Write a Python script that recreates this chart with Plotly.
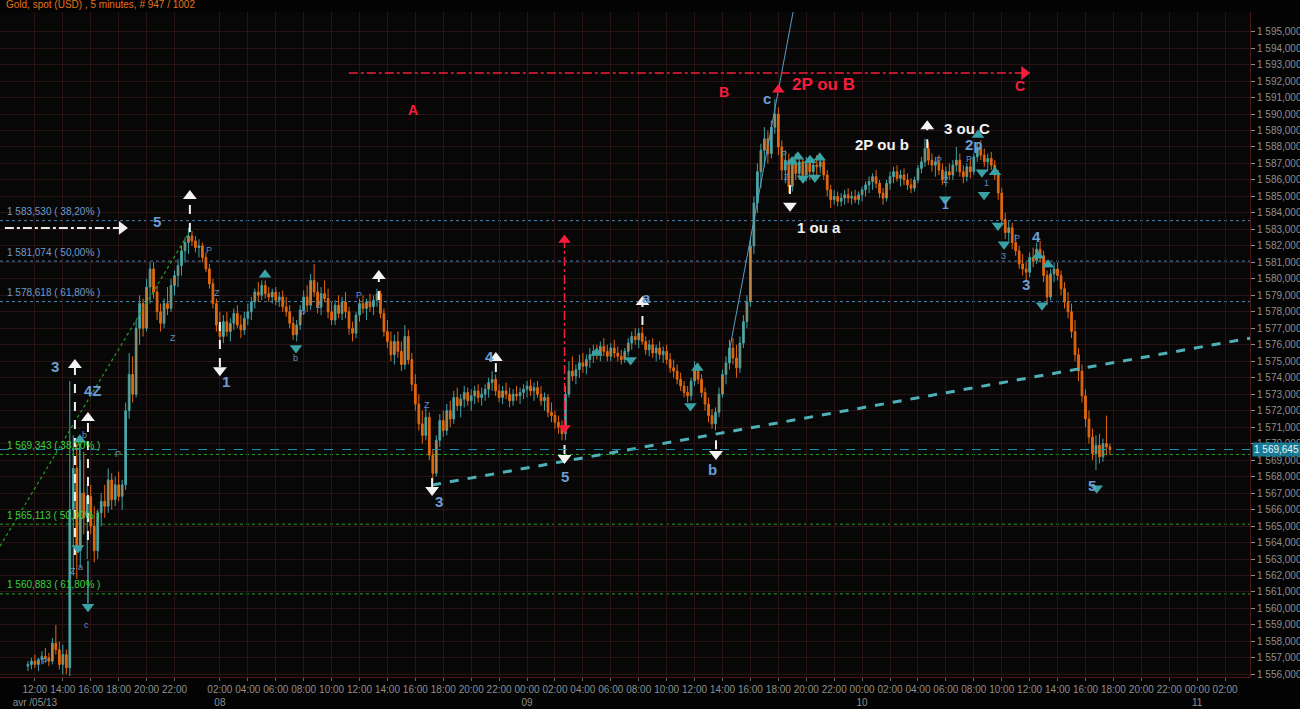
import pandas as pd
import plotly.graph_objects as go

# ---------------------------------------------------------------------------
# Gold spot (USD), 15-minute bars, Fri 5 Apr 2013 -> Wed 10 Apr 2013
# ---------------------------------------------------------------------------
friday_times = pd.date_range("2013-04-05 11:30", "2013-04-05 23:00", freq="15min")
week_times = pd.date_range("2013-04-08 00:00", "2013-04-10 17:45", freq="15min")
bar_times = list(friday_times) + list(week_times)

open_px = [
    # Fri 05
    1556.5, 1556.6, 1556.8, 1556.6, 1556.9, 1557.1, 1557.0, 1556.8,
    1557.9, 1557.5, 1556.6, 1557.2, 1556.4, 1566.0, 1568.5, 1563.5,
    1567.0, 1565.5, 1566.8, 1565.0, 1563.5, 1565.8, 1566.5, 1566.2,
    1567.8, 1566.6, 1567.5, 1566.8, 1567.5, 1572.0, 1574.2, 1573.0,
    1577.0, 1578.5, 1577.0, 1579.5, 1580.6, 1579.2, 1578.0, 1577.3,
    1578.5, 1578.2, 1579.6, 1580.2, 1580.8, 1581.7, 1582.2,
    # Mon 08
    1582.6, 1582.3, 1581.9, 1582.0, 1581.3, 1580.6, 1579.7, 1578.5,
    1577.2, 1576.5, 1577.4, 1576.8, 1577.3, 1577.9, 1577.2, 1576.9,
    1577.6, 1578.0, 1578.6, 1579.2, 1579.0, 1579.6, 1579.1, 1578.9,
    1579.2, 1578.7, 1578.9, 1578.3, 1578.0, 1577.3, 1576.6, 1577.2,
    1578.1, 1578.9, 1578.4, 1579.9, 1579.2, 1578.3, 1579.1, 1578.8,
    1578.0, 1577.5, 1578.4, 1577.9, 1578.6, 1578.0, 1577.0, 1576.7,
    1577.8, 1578.5, 1578.2, 1578.6, 1578.3, 1578.7, 1579.1, 1577.9,
    1576.8, 1576.2, 1575.4, 1576.2, 1575.6, 1574.8, 1576.5, 1575.1,
    1573.6, 1572.4, 1571.2, 1570.5, 1571.6, 1569.3, 1568.2, 1570.2,
    1571.4, 1570.8, 1572.0, 1571.5, 1572.8, 1572.3, 1572.7, 1573.1,
    1572.6, 1572.9, 1573.2, 1572.8, 1573.0, 1573.3, 1573.7, 1573.9,
    1573.2, 1572.8, 1573.2, 1573.0, 1572.6, 1573.0, 1572.9, 1573.1,
    # Tue 09
    1573.3, 1573.5, 1573.2, 1573.4, 1573.0, 1572.6, 1572.8, 1571.9,
    1571.7, 1571.3, 1571.0, 1570.6, 1573.0, 1574.4, 1574.1, 1574.5,
    1574.9, 1574.7, 1575.1, 1575.4, 1575.6, 1575.4, 1575.9, 1575.6,
    1575.3, 1575.8, 1575.5, 1575.3, 1575.1, 1575.6, 1576.1, 1576.5,
    1576.3, 1576.7, 1576.2, 1575.7, 1576.0, 1575.5, 1575.8, 1575.4,
    1575.6, 1575.1, 1574.6, 1574.4, 1573.9, 1573.5, 1573.1, 1572.9,
    1573.8, 1574.6, 1573.9, 1573.1, 1572.4, 1571.7, 1571.2, 1571.9,
    1573.0, 1574.2, 1574.9, 1575.8, 1575.2, 1574.6, 1576.1, 1577.4,
    1578.6, 1582.0, 1584.6, 1586.5, 1587.8, 1588.5, 1587.6, 1589.2,
    1590.0, 1588.0, 1586.6, 1587.2, 1585.6, 1587.0, 1586.4, 1587.1,
    1586.3, 1587.0, 1586.5, 1586.9, 1586.8, 1587.1, 1586.3, 1585.4,
    1584.8, 1585.0, 1584.7, 1584.9, 1585.1, 1584.9, 1585.0, 1584.8,
    # Wed 10
    1585.1, 1585.4, 1585.7, 1585.9, 1586.2, 1585.8, 1585.2, 1584.9,
    1585.8, 1586.2, 1586.5, 1586.1, 1586.3, 1586.0, 1585.7, 1585.5,
    1586.0, 1586.7, 1587.1, 1587.9, 1587.2, 1586.9, 1587.1, 1586.6,
    1586.0, 1586.5, 1586.3, 1586.9, 1587.2, 1586.5, 1586.2, 1586.8,
    1586.5, 1587.4, 1588.0, 1587.5, 1587.1, 1587.3, 1586.9, 1586.3,
    1585.2, 1583.6, 1582.8, 1583.1, 1582.2, 1581.7, 1580.9, 1580.6,
    1580.4, 1581.3, 1581.1, 1581.8, 1581.4, 1580.2, 1578.9, 1580.3,
    1580.6, 1580.2, 1579.4, 1578.6, 1578.0, 1576.8, 1575.4, 1574.4,
    1572.9, 1571.5, 1570.4, 1569.4, 1569.9, 1569.2, 1570.0, 1569.8,
]

high_px = [
    # Fri 05
    1556.8, 1557.0, 1557.2, 1557.0, 1557.4, 1557.6, 1557.3, 1558.2,
    1559.0, 1558.0, 1557.8, 1557.5, 1573.8, 1570.5, 1570.0, 1569.0,
    1569.5, 1567.5, 1567.5, 1566.2, 1566.0, 1567.0, 1567.5, 1568.5,
    1568.2, 1568.0, 1568.3, 1567.8, 1572.5, 1575.5, 1575.3, 1577.5,
    1579.0, 1578.8, 1580.0, 1581.0, 1581.0, 1579.6, 1578.5, 1578.8,
    1579.5, 1580.0, 1580.5, 1581.2, 1582.0, 1582.5, 1583.1,
    # Mon 08
    1582.9, 1582.6, 1582.4, 1582.2, 1581.6, 1580.9, 1580.0, 1578.8,
    1578.0, 1577.8, 1578.0, 1577.6, 1578.2, 1578.4, 1577.8, 1578.0,
    1578.5, 1578.9, 1579.4, 1579.8, 1579.9, 1579.9, 1579.5, 1579.4,
    1579.5, 1579.2, 1579.3, 1578.9, 1578.4, 1577.7, 1577.5, 1578.4,
    1579.3, 1579.6, 1580.3, 1580.9, 1579.8, 1579.5, 1579.9, 1579.4,
    1578.6, 1578.7, 1579.0, 1578.9, 1579.2, 1578.3, 1577.4, 1578.0,
    1578.8, 1579.0, 1578.8, 1579.1, 1579.0, 1579.4, 1579.3, 1578.2,
    1577.5, 1576.8, 1576.6, 1576.8, 1576.2, 1577.2, 1576.9, 1575.5,
    1574.2, 1573.0, 1572.0, 1572.2, 1571.9, 1569.6, 1570.5, 1571.8,
    1572.0, 1572.4, 1572.6, 1573.2, 1573.4, 1573.0, 1573.5, 1573.4,
    1573.3, 1573.5, 1573.6, 1573.4, 1573.6, 1574.0, 1574.4, 1574.2,
    1573.6, 1573.5, 1573.7, 1573.4, 1573.3, 1573.5, 1573.4, 1573.6,
    # Tue 09
    1573.8, 1573.9, 1573.7, 1573.8, 1573.5, 1573.1, 1573.0, 1572.5,
    1572.0, 1571.7, 1571.4, 1573.5, 1575.0, 1575.3, 1574.8, 1575.4,
    1575.5, 1575.4, 1575.8, 1576.0, 1576.0, 1576.2, 1576.4, 1576.0,
    1576.1, 1576.3, 1575.9, 1575.7, 1575.8, 1576.4, 1576.8, 1577.0,
    1577.0, 1577.1, 1576.5, 1576.3, 1576.4, 1576.0, 1576.2, 1575.9,
    1576.0, 1575.5, 1575.1, 1574.8, 1574.3, 1573.8, 1573.5, 1574.0,
    1575.0, 1574.9, 1574.2, 1573.4, 1572.8, 1572.1, 1572.2, 1573.4,
    1574.5, 1575.3, 1576.3, 1576.4, 1576.0, 1576.5, 1577.8, 1579.0,
    1582.5, 1585.0, 1587.0, 1588.2, 1589.2, 1589.0, 1589.6, 1590.9,
    1590.4, 1588.4, 1587.8, 1587.6, 1587.4, 1587.6, 1587.5, 1587.3,
    1587.4, 1587.2, 1587.3, 1587.5, 1587.6, 1587.3, 1586.6, 1585.7,
    1585.4, 1585.3, 1585.2, 1585.4, 1585.5, 1585.3, 1585.4, 1585.3,
    # Wed 10
    1585.6, 1585.9, 1586.2, 1586.4, 1586.6, 1586.0, 1585.5, 1586.0,
    1586.5, 1586.8, 1586.9, 1586.6, 1586.7, 1586.4, 1586.1, 1586.2,
    1586.9, 1587.4, 1588.5, 1588.3, 1587.6, 1587.4, 1587.5, 1587.0,
    1586.8, 1587.0, 1587.2, 1588.0, 1587.6, 1586.9, 1587.0, 1587.3,
    1587.6, 1588.3, 1588.4, 1587.9, 1587.6, 1587.7, 1587.2, 1586.6,
    1585.5, 1584.0, 1583.5, 1583.4, 1582.7, 1582.0, 1581.5, 1581.0,
    1581.6, 1581.9, 1582.2, 1582.3, 1581.7, 1580.5, 1580.6, 1581.0,
    1581.0, 1580.5, 1579.8, 1579.2, 1578.5, 1577.5, 1575.8, 1574.8,
    1573.3, 1572.0, 1570.9, 1570.5, 1570.6, 1570.3, 1571.7, 1570.0,
]

low_px = [
    # Fri 05
    1556.2, 1556.3, 1556.4, 1556.2, 1556.6, 1556.7, 1556.5, 1556.6,
    1557.2, 1556.3, 1556.0, 1556.0, 1555.9, 1562.0, 1561.8, 1562.5,
    1564.5, 1563.0, 1564.5, 1562.8, 1563.0, 1565.0, 1565.5, 1565.8,
    1566.0, 1566.2, 1566.5, 1566.0, 1567.2, 1571.5, 1572.5, 1572.8,
    1576.0, 1576.5, 1576.8, 1578.5, 1578.8, 1577.5, 1576.8, 1577.0,
    1577.8, 1578.0, 1579.0, 1579.5, 1580.2, 1581.0, 1581.5,
    # Mon 08
    1582.0, 1581.6, 1581.3, 1581.0, 1580.4, 1579.4, 1578.2, 1576.8,
    1576.0, 1576.1, 1576.5, 1576.2, 1576.9, 1577.0, 1576.4, 1576.6,
    1577.2, 1577.5, 1578.2, 1578.6, 1578.7, 1578.8, 1578.6, 1578.5,
    1578.4, 1578.3, 1578.0, 1577.7, 1577.0, 1576.3, 1576.2, 1576.9,
    1577.8, 1578.0, 1578.1, 1578.9, 1577.9, 1577.8, 1578.6, 1577.6,
    1577.2, 1577.2, 1577.6, 1577.5, 1577.6, 1576.6, 1576.2, 1576.4,
    1577.4, 1577.9, 1577.5, 1578.0, 1577.8, 1578.3, 1577.6, 1576.5,
    1575.8, 1575.0, 1574.8, 1575.2, 1574.4, 1574.5, 1574.8, 1573.2,
    1572.0, 1570.8, 1570.0, 1570.2, 1569.0, 1567.7, 1568.0, 1569.8,
    1570.4, 1570.5, 1571.0, 1571.2, 1572.0, 1571.6, 1572.2, 1572.3,
    1572.0, 1572.4, 1572.5, 1572.3, 1572.6, 1572.8, 1573.2, 1572.9,
    1572.5, 1572.4, 1572.7, 1572.2, 1572.3, 1572.6, 1572.4, 1572.7,
    # Tue 09
    1572.8, 1572.9, 1572.6, 1572.8, 1572.3, 1572.0, 1571.6, 1571.3,
    1570.9, 1570.6, 1570.2, 1570.2, 1572.8, 1573.8, 1573.6, 1574.0,
    1574.3, 1574.2, 1574.6, 1574.9, 1575.1, 1575.0, 1575.3, 1575.0,
    1575.0, 1575.2, 1575.0, 1574.8, 1574.9, 1575.3, 1575.7, 1576.0,
    1575.8, 1576.0, 1575.4, 1575.3, 1575.2, 1575.0, 1575.1, 1574.9,
    1574.8, 1574.3, 1574.0, 1573.6, 1573.2, 1572.8, 1572.5, 1572.6,
    1573.5, 1573.6, 1572.8, 1572.0, 1571.3, 1570.9, 1570.8, 1571.6,
    1572.8, 1573.6, 1574.5, 1574.8, 1574.0, 1574.3, 1575.8, 1577.0,
    1578.3, 1581.5, 1584.0, 1585.5, 1586.8, 1587.0, 1587.3, 1588.8,
    1587.5, 1586.0, 1585.8, 1585.2, 1585.3, 1586.0, 1586.0, 1585.8,
    1585.9, 1586.0, 1586.1, 1586.3, 1586.4, 1586.0, 1585.0, 1584.3,
    1584.5, 1584.4, 1584.4, 1584.5, 1584.6, 1584.5, 1584.6, 1584.5,
    # Wed 10
    1584.7, 1585.0, 1585.2, 1585.4, 1585.5, 1584.9, 1584.5, 1584.7,
    1585.4, 1585.8, 1585.9, 1585.6, 1585.7, 1585.4, 1585.2, 1585.3,
    1585.8, 1586.4, 1586.8, 1586.9, 1586.5, 1586.2, 1586.3, 1585.7,
    1585.6, 1586.0, 1586.0, 1586.5, 1586.2, 1585.8, 1585.9, 1586.1,
    1586.3, 1587.1, 1587.2, 1586.8, 1586.5, 1586.6, 1586.0, 1584.8,
    1583.2, 1582.4, 1582.3, 1581.8, 1581.4, 1580.6, 1580.2, 1579.8,
    1580.1, 1580.7, 1580.9, 1581.0, 1579.8, 1578.4, 1578.7, 1579.8,
    1579.9, 1579.0, 1578.2, 1577.6, 1576.4, 1575.0, 1573.8, 1572.5,
    1571.0, 1570.0, 1569.0, 1568.4, 1568.8, 1568.9, 1569.3, 1569.3,
]

close_px = [
    # Fri 05
    1556.6, 1556.8, 1556.6, 1556.9, 1557.1, 1557.0, 1556.8, 1557.9,
    1557.5, 1556.6, 1557.2, 1556.4, 1566.0, 1568.5, 1563.5, 1567.0,
    1565.5, 1566.8, 1565.0, 1563.5, 1565.8, 1566.5, 1566.2, 1567.8,
    1566.6, 1567.5, 1566.8, 1567.5, 1572.0, 1574.2, 1573.0, 1577.0,
    1578.5, 1577.0, 1579.5, 1580.6, 1579.2, 1578.0, 1577.3, 1578.5,
    1578.2, 1579.6, 1580.2, 1580.8, 1581.7, 1582.2, 1582.6,
    # Mon 08
    1582.3, 1581.9, 1582.0, 1581.3, 1580.6, 1579.7, 1578.5, 1577.2,
    1576.5, 1577.4, 1576.8, 1577.3, 1577.9, 1577.2, 1576.9, 1577.6,
    1578.0, 1578.6, 1579.2, 1579.0, 1579.6, 1579.1, 1578.9, 1579.2,
    1578.7, 1578.9, 1578.3, 1578.0, 1577.3, 1576.6, 1577.2, 1578.1,
    1578.9, 1578.4, 1579.9, 1579.2, 1578.3, 1579.1, 1578.8, 1578.0,
    1577.5, 1578.4, 1577.9, 1578.6, 1578.0, 1577.0, 1576.7, 1577.8,
    1578.5, 1578.2, 1578.6, 1578.3, 1578.7, 1579.1, 1577.9, 1576.8,
    1576.2, 1575.4, 1576.2, 1575.6, 1574.8, 1576.5, 1575.1, 1573.6,
    1572.4, 1571.2, 1570.5, 1571.6, 1569.3, 1568.2, 1570.2, 1571.4,
    1570.8, 1572.0, 1571.5, 1572.8, 1572.3, 1572.7, 1573.1, 1572.6,
    1572.9, 1573.2, 1572.8, 1573.0, 1573.3, 1573.7, 1573.9, 1573.2,
    1572.8, 1573.2, 1573.0, 1572.6, 1573.0, 1572.9, 1573.1, 1573.3,
    # Tue 09
    1573.5, 1573.2, 1573.4, 1573.0, 1572.6, 1572.8, 1571.9, 1571.7,
    1571.3, 1571.0, 1570.6, 1573.0, 1574.4, 1574.1, 1574.5, 1574.9,
    1574.7, 1575.1, 1575.4, 1575.6, 1575.4, 1575.9, 1575.6, 1575.3,
    1575.8, 1575.5, 1575.3, 1575.1, 1575.6, 1576.1, 1576.5, 1576.3,
    1576.7, 1576.2, 1575.7, 1576.0, 1575.5, 1575.8, 1575.4, 1575.6,
    1575.1, 1574.6, 1574.4, 1573.9, 1573.5, 1573.1, 1572.9, 1573.8,
    1574.6, 1573.9, 1573.1, 1572.4, 1571.7, 1571.2, 1571.9, 1573.0,
    1574.2, 1574.9, 1575.8, 1575.2, 1574.6, 1576.1, 1577.4, 1578.6,
    1582.0, 1584.6, 1586.5, 1587.8, 1588.5, 1587.6, 1589.2, 1590.0,
    1588.0, 1586.6, 1587.2, 1585.6, 1587.0, 1586.4, 1587.1, 1586.3,
    1587.0, 1586.5, 1586.9, 1586.8, 1587.1, 1586.3, 1585.4, 1584.8,
    1585.0, 1584.7, 1584.9, 1585.1, 1584.9, 1585.0, 1584.8, 1585.1,
    # Wed 10
    1585.4, 1585.7, 1585.9, 1586.2, 1585.8, 1585.2, 1584.9, 1585.8,
    1586.2, 1586.5, 1586.1, 1586.3, 1586.0, 1585.7, 1585.5, 1586.0,
    1586.7, 1587.1, 1587.9, 1587.2, 1586.9, 1587.1, 1586.6, 1586.0,
    1586.5, 1586.3, 1586.9, 1587.2, 1586.5, 1586.2, 1586.8, 1586.5,
    1587.4, 1588.0, 1587.5, 1587.1, 1587.3, 1586.9, 1586.3, 1585.2,
    1583.6, 1582.8, 1583.1, 1582.2, 1581.7, 1580.9, 1580.6, 1580.4,
    1581.3, 1581.1, 1581.8, 1581.4, 1580.2, 1578.9, 1580.3, 1580.6,
    1580.2, 1579.4, 1578.6, 1578.0, 1576.8, 1575.4, 1574.4, 1572.9,
    1571.5, 1570.4, 1569.4, 1569.9, 1569.2, 1570.0, 1569.8, 1569.645,
]

assert len(bar_times) == len(open_px) == len(high_px) == len(low_px) == len(close_px)

last_price = 1569.645

# Fibonacci retracement levels
fib_blue = [(1583.530, "38,20%"), (1581.074, "50,00%"), (1578.618, "61,80%")]
fib_green = [(1569.343, "38,20%"), (1565.113, "50,00%"), (1560.883, "61,80%")]

# Elliott wave counts (blue)
wave_labels = [
    ("3", "2013-04-05 13:26", 1574.7), ("4Z", "2013-04-05 16:09", 1573.2),
    ("5", "2013-04-05 20:44", 1583.45), ("1", "2013-04-08 02:26", 1573.75),
    ("3", "2013-04-08 17:41", 1566.46), ("4", "2013-04-08 21:20", 1575.3),
    ("5", "2013-04-09 02:45", 1567.98), ("a", "2013-04-09 08:33", 1578.84),
    ("b", "2013-04-09 13:17", 1568.46), ("c", "2013-04-09 17:13", 1590.92),
    ("2p", "2013-04-10 08:02", 1588.13), ("4", "2013-04-10 12:28", 1582.55),
    ("3", "2013-04-10 11:45", 1579.63), ("5", "2013-04-10 16:29", 1567.43),
]

# Small indicator tags (blue)
tag_labels = [
    ("P", "2013-04-05 12:43", 1556.8), ("b", "2013-04-05 15:35", 1570.5),
    ("a", "2013-04-05 15:17", 1562.5), ("c", "2013-04-05 15:43", 1559.0),
    ("Z", "2013-04-05 14:43", 1562.3), ("P", "2013-04-05 17:57", 1569.36),
    ("Z", "2013-04-05 21:53", 1576.4), ("P", "2013-04-08 01:13", 1581.75),
    ("Z", "2013-04-08 01:47", 1579.15), ("P", "2013-04-08 07:57", 1577.94),
    ("b", "2013-04-08 07:27", 1575.2), ("Z", "2013-04-08 09:06", 1578.4),
    ("P", "2013-04-08 11:58", 1579.0), ("Z", "2013-04-08 16:49", 1572.35),
    ("P", "2013-04-09 18:24", 1587.57), ("Z", "2013-04-09 18:37", 1586.2),
    ("P", "2013-04-10 05:32", 1587.2), ("Z", "2013-04-10 06:02", 1586.0),
    ("P", "2013-04-10 07:38", 1587.3), ("1", "2013-04-10 08:54", 1585.8),
    ("3", "2013-04-10 10:09", 1581.4), ("P", "2013-04-10 11:07", 1582.5),
]
wave_one_small = [("1", "2013-04-10 05:59", 1584.5)]

# Scenario labels (red)
red_labels = [
    ("A", "2013-04-08 15:48", 1590.24, 14), ("B", "2013-04-09 14:08", 1591.33, 14),
    ("2P ou B", "2013-04-09 21:12", 1591.82, 17), ("C", "2013-04-10 11:19", 1591.7, 14),
]

# Scenario labels (white)
white_labels = [
    ("1 ou a", "2013-04-09 20:56", 1583.09), ("2P ou b", "2013-04-10 01:25", 1588.13),
    ("3 ou C", "2013-04-10 07:30", 1589.1),
]

# Dashed white pivot arrows: time, price at tail, price at head
white_arrows = [
    ("2013-04-05 23:06", 1582.84, 1585.03), ("2013-04-08 02:00", 1577.38, 1574.46),
    ("2013-04-05 14:52", 1563.25, 1574.77), ("2013-04-05 15:48", 1564.15, 1571.55),
    ("2013-04-08 13:23", 1578.71, 1580.17), ("2013-04-08 17:12", 1567.91, 1567.18),
    ("2013-04-08 21:46", 1574.34, 1575.19), ("2013-04-09 02:41", 1569.92, 1569.13),
    ("2013-04-09 08:16", 1577.20, 1578.60), ("2013-04-09 13:32", 1570.20, 1569.37),
    ("2013-04-09 18:50", 1585.70, 1584.43), ("2013-04-10 04:40", 1587.93, 1589.26),
]

# Teal swing markers: time, price, direction
swing_marks = [
    ("2013-04-05 15:13", 1570.23, "up"), ("2013-04-05 15:05", 1563.67, "down"),
    ("2013-04-05 15:48", 1560.10, "down"), ("2013-04-08 05:14", 1580.25, "up"),
    ("2013-04-08 07:27", 1575.80, "down"), ("2013-04-09 04:59", 1575.50, "up"),
    ("2013-04-09 07:25", 1575.07, "down"), ("2013-04-09 11:42", 1572.28, "down"),
    ("2013-04-09 12:12", 1574.59, "up"), ("2013-04-09 18:59", 1587.10, "up"),
    ("2013-04-09 19:24", 1587.40, "up"), ("2013-04-09 19:46", 1586.10, "down"),
    ("2013-04-09 20:16", 1587.20, "up"), ("2013-04-09 20:37", 1586.15, "down"),
    ("2013-04-09 20:58", 1587.35, "up"), ("2013-04-10 05:57", 1584.83, "down"),
    ("2013-04-10 08:18", 1588.72, "up"), ("2013-04-10 08:35", 1586.46, "down"),
    ("2013-04-10 08:44", 1585.10, "down"), ("2013-04-10 09:31", 1586.46, "up"),
    ("2013-04-10 09:44", 1583.24, "down"), ("2013-04-10 10:10", 1582.10, "down"),
    ("2013-04-10 12:36", 1581.40, "up"), ("2013-04-10 13:19", 1580.85, "up"),
    ("2013-04-10 12:53", 1578.40, "down"), ("2013-04-10 16:48", 1567.30, "down"),
]
swing_stems = [
    ("2013-04-05 15:13", 1570.0, 1563.9),
    ("2013-04-05 15:48", 1562.9, 1560.3),
]

# Trend lines: (time, price) end points
support_line = [("2013-04-08 17:12", 1567.49), ("2013-04-11 03:47", 1576.40)]
fib_base_line = [("2013-04-05 09:30", 1563.78), ("2013-04-05 23:06", 1582.90)]
rally_line = [("2013-04-09 14:30", 1575.67), ("2013-04-09 19:05", 1596.31)]

# Target line B -> C (red) and the Friday reference arrow (white)
target_level = 1592.49
target_span = ("2013-04-08 11:14", "2013-04-10 11:58")
target_head = "2013-04-10 11:37"
ref_level = 1583.09
ref_span = ("2013-04-05 09:51", "2013-04-05 18:14")
red_range_time = "2013-04-09 02:41"
red_range = (1570.95, 1582.36)
red_top_mark = ("2013-04-09 18:00", 1591.47)

# Axis ticks
tick_days = [
    ("2013-04-05", [12, 14, 16, 18, 20, 22], "avr /05/13"),
    ("2013-04-08", [2, 4, 6, 8, 10, 12, 14, 16, 18, 20, 22], "08"),
    ("2013-04-09", [0, 2, 4, 6, 8, 10, 12, 14, 16, 18, 20, 22], "09"),
    ("2013-04-10", [0, 2, 4, 6, 8, 10, 12, 14, 16, 18, 20, 22], "10"),
    ("2013-04-11", [0, 2], "11"),
]
price_ticks = list(range(1556, 1596))

X_RANGE = ["2013-04-05 09:30", "2013-04-11 03:47"]
Y_RANGE = [1555.84, 1596.19]

# ---------------------------------------------------------------------------
FONT = "Liberation Sans, Arial, sans-serif"
ORANGE = "#ef7a1f"
TEAL = "#3fa3a8"
BLUE = "#6c9dd4"
RED = "#f41e3c"
GRID = "#2a1313"


def price_label(v):
    s = f"{v:,.3f}"
    return s.replace(",", " ").replace(".", ",")


tickvals, ticktext = [], []
for day, hours, day_text in tick_days:
    for i, h in enumerate(hours):
        tickvals.append(f"{day} {h:02d}:00")
        ticktext.append(f"{h:02d}:00<br>{day_text}" if i == 0 else f"{h:02d}:00")

fig = go.Figure()

fig.add_trace(go.Candlestick(
    x=bar_times, open=open_px, high=high_px, low=low_px, close=close_px,
    increasing=dict(line=dict(color=TEAL, width=1), fillcolor=ORANGE),
    decreasing=dict(line=dict(color="#e2680f", width=1), fillcolor="#e2680f"),
    whiskerwidth=0, hoverinfo="skip",
))

# Fibonacci level lines
for level, _ in fib_blue:
    fig.add_shape(type="line", xref="paper", x0=0, x1=1, y0=level, y1=level,
                  line=dict(color="#4f86b4", width=1, dash="dot"), layer="below")
for level, _ in fib_green:
    fig.add_shape(type="line", xref="paper", x0=0, x1=1, y0=level, y1=level,
                  line=dict(color="#2aa02a", width=1, dash="dot"), layer="below")

# Last price line
fig.add_shape(type="line", xref="paper", x0=0, x1=1, y0=last_price, y1=last_price,
              line=dict(color="#1f8fa8", width=1, dash="dash"))

# Trend lines
fig.add_trace(go.Scatter(x=[p[0] for p in support_line], y=[p[1] for p in support_line],
                         mode="lines", line=dict(color="#4fb0b8", width=3, dash="dash"),
                         hoverinfo="skip"))
fig.add_trace(go.Scatter(x=[p[0] for p in fib_base_line], y=[p[1] for p in fib_base_line],
                         mode="lines", line=dict(color="#22a022", width=1.2, dash="dot"),
                         hoverinfo="skip"))
fig.add_trace(go.Scatter(x=[p[0] for p in rally_line], y=[p[1] for p in rally_line],
                         mode="lines", line=dict(color="#5a9ec0", width=1),
                         hoverinfo="skip"))

# Red target line with arrow head
fig.add_trace(go.Scatter(x=list(target_span), y=[target_level, target_level], mode="lines",
                         line=dict(color=RED, width=1.5, dash="dashdot"), hoverinfo="skip"))
fig.add_trace(go.Scatter(x=[target_head], y=[target_level], mode="markers",
                         marker=dict(symbol="triangle-right", size=12, color=RED),
                         hoverinfo="skip"))

# Red vertical range arrow
fig.add_trace(go.Scatter(x=[red_range_time, red_range_time], y=list(red_range), mode="lines",
                         line=dict(color=RED, width=1.5, dash="dashdot"), hoverinfo="skip"))
fig.add_trace(go.Scatter(x=[red_range_time, red_range_time, red_top_mark[0]],
                         y=[red_range[0], red_range[1], red_top_mark[1]], mode="markers",
                         marker=dict(symbol=["triangle-down", "triangle-up", "triangle-up"],
                                     size=11, color=RED), hoverinfo="skip"))

# White reference arrow (Friday)
fig.add_trace(go.Scatter(x=list(ref_span), y=[ref_level, ref_level], mode="lines",
                         line=dict(color="#e8e8e8", width=2, dash="dashdot"), hoverinfo="skip"))
fig.add_trace(go.Scatter(x=[ref_span[1]], y=[ref_level], mode="markers",
                         marker=dict(symbol="triangle-right", size=12, color="#f0f0f0"),
                         hoverinfo="skip"))

# White pivot arrows
for t, p_tail, p_head in white_arrows:
    fig.add_trace(go.Scatter(x=[t, t], y=[p_tail, p_head], mode="lines",
                             line=dict(color="#f0f0f0", width=2, dash="dash"), hoverinfo="skip"))
    fig.add_trace(go.Scatter(x=[t], y=[p_head], mode="markers",
                             marker=dict(symbol="triangle-up" if p_head > p_tail else "triangle-down",
                                         size=12, color="#f4f4f4"), hoverinfo="skip"))

# Teal swing markers
for t, p0, p1 in swing_stems:
    fig.add_trace(go.Scatter(x=[t, t], y=[p0, p1], mode="lines",
                             line=dict(color=TEAL, width=1.5), hoverinfo="skip"))
fig.add_trace(go.Scatter(
    x=[m[0] for m in swing_marks], y=[m[1] for m in swing_marks], mode="markers",
    marker=dict(symbol=["triangle-up" if m[2] == "up" else "triangle-down" for m in swing_marks],
                size=11, color="#3aa2a4"),
    hoverinfo="skip"))

annotations = []


def label(text, t, p, color, size, bold=True):
    annotations.append(dict(
        x=t, y=p, xref="x", yref="y", text=f"<b>{text}</b>" if bold else text,
        showarrow=False, font=dict(family=FONT, size=size, color=color),
        xanchor="center", yanchor="middle"))


for text, t, p in wave_labels:
    label(text, t, p, BLUE, 15)
for text, t, p in tag_labels:
    label(text, t, p, "#5f8ec4", 9, bold=False)
for text, t, p in wave_one_small:
    label(text, t, p, BLUE, 12)
for text, t, p, size in red_labels:
    label(text, t, p, RED, size)
for text, t, p in white_labels:
    label(text, t, p, "#f2f2f2", 15)

for level, pct in fib_blue:
    annotations.append(dict(
        x=0.004, xref="paper", y=level, yref="y", yshift=9,
        text=f"{price_label(level)} ( {pct} )", showarrow=False,
        xanchor="left", yanchor="middle",
        font=dict(family=FONT, size=10, color="#6f9ccb")))
for level, pct in fib_green:
    annotations.append(dict(
        x=0.004, xref="paper", y=level, yref="y", yshift=9,
        text=f"{price_label(level)} ( {pct} )", showarrow=False,
        xanchor="left", yanchor="middle",
        font=dict(family=FONT, size=10, color="#3ad23a")))

# Last price tag on the axis
annotations.append(dict(
    x=1, xref="paper", xanchor="left", xshift=2, y=last_price, yref="y", yanchor="middle",
    text=price_label(last_price), showarrow=False, bgcolor="#1b7a93",
    font=dict(family=FONT, size=10, color="#e8f4f6"), borderpad=1))

# Chart title
annotations.append(dict(
    x=0.003, xref="paper", y=1, yref="paper", yanchor="bottom", xanchor="left",
    text="Gold, spot (USD) , 5 minutes, # 947 / 1002", showarrow=False,
    font=dict(family=FONT, size=10, color="#e5731c")))

fig.update_layout(
    width=1300, height=709,
    margin=dict(l=0, r=50, t=12, b=32, autoexpand=False),
    paper_bgcolor="#030303", plot_bgcolor="#070707",
    showlegend=False,
    annotations=annotations,
    xaxis=dict(
        type="date", range=X_RANGE,
        rangebreaks=[dict(bounds=["2013-04-05 23:15", "2013-04-08 00:00"])],
        rangeslider=dict(visible=False),
        tickmode="array", tickvals=tickvals, ticktext=ticktext, tickangle=0,
        tickfont=dict(family=FONT, size=10, color="#8f8f8f"),
        ticks="outside", ticklen=3, tickcolor="#666666",
        showgrid=True, gridcolor=GRID, gridwidth=1, automargin=False,
        showline=True, linecolor="#4a1616", zeroline=False, fixedrange=True,
    ),
    yaxis=dict(
        side="right", range=Y_RANGE,
        tickmode="array", tickvals=price_ticks,
        ticktext=[price_label(v) for v in price_ticks],
        tickfont=dict(family=FONT, size=10, color="#8f8f8f"),
        ticks="outside", ticklen=4, tickcolor="#8f8f8f",
        showgrid=True, gridcolor=GRID, gridwidth=1, automargin=False,
        showline=True, linecolor="#4a1616", zeroline=False, fixedrange=True,
    ),
)

fig.write_html("out.html", config={"displayModeBar": False})
